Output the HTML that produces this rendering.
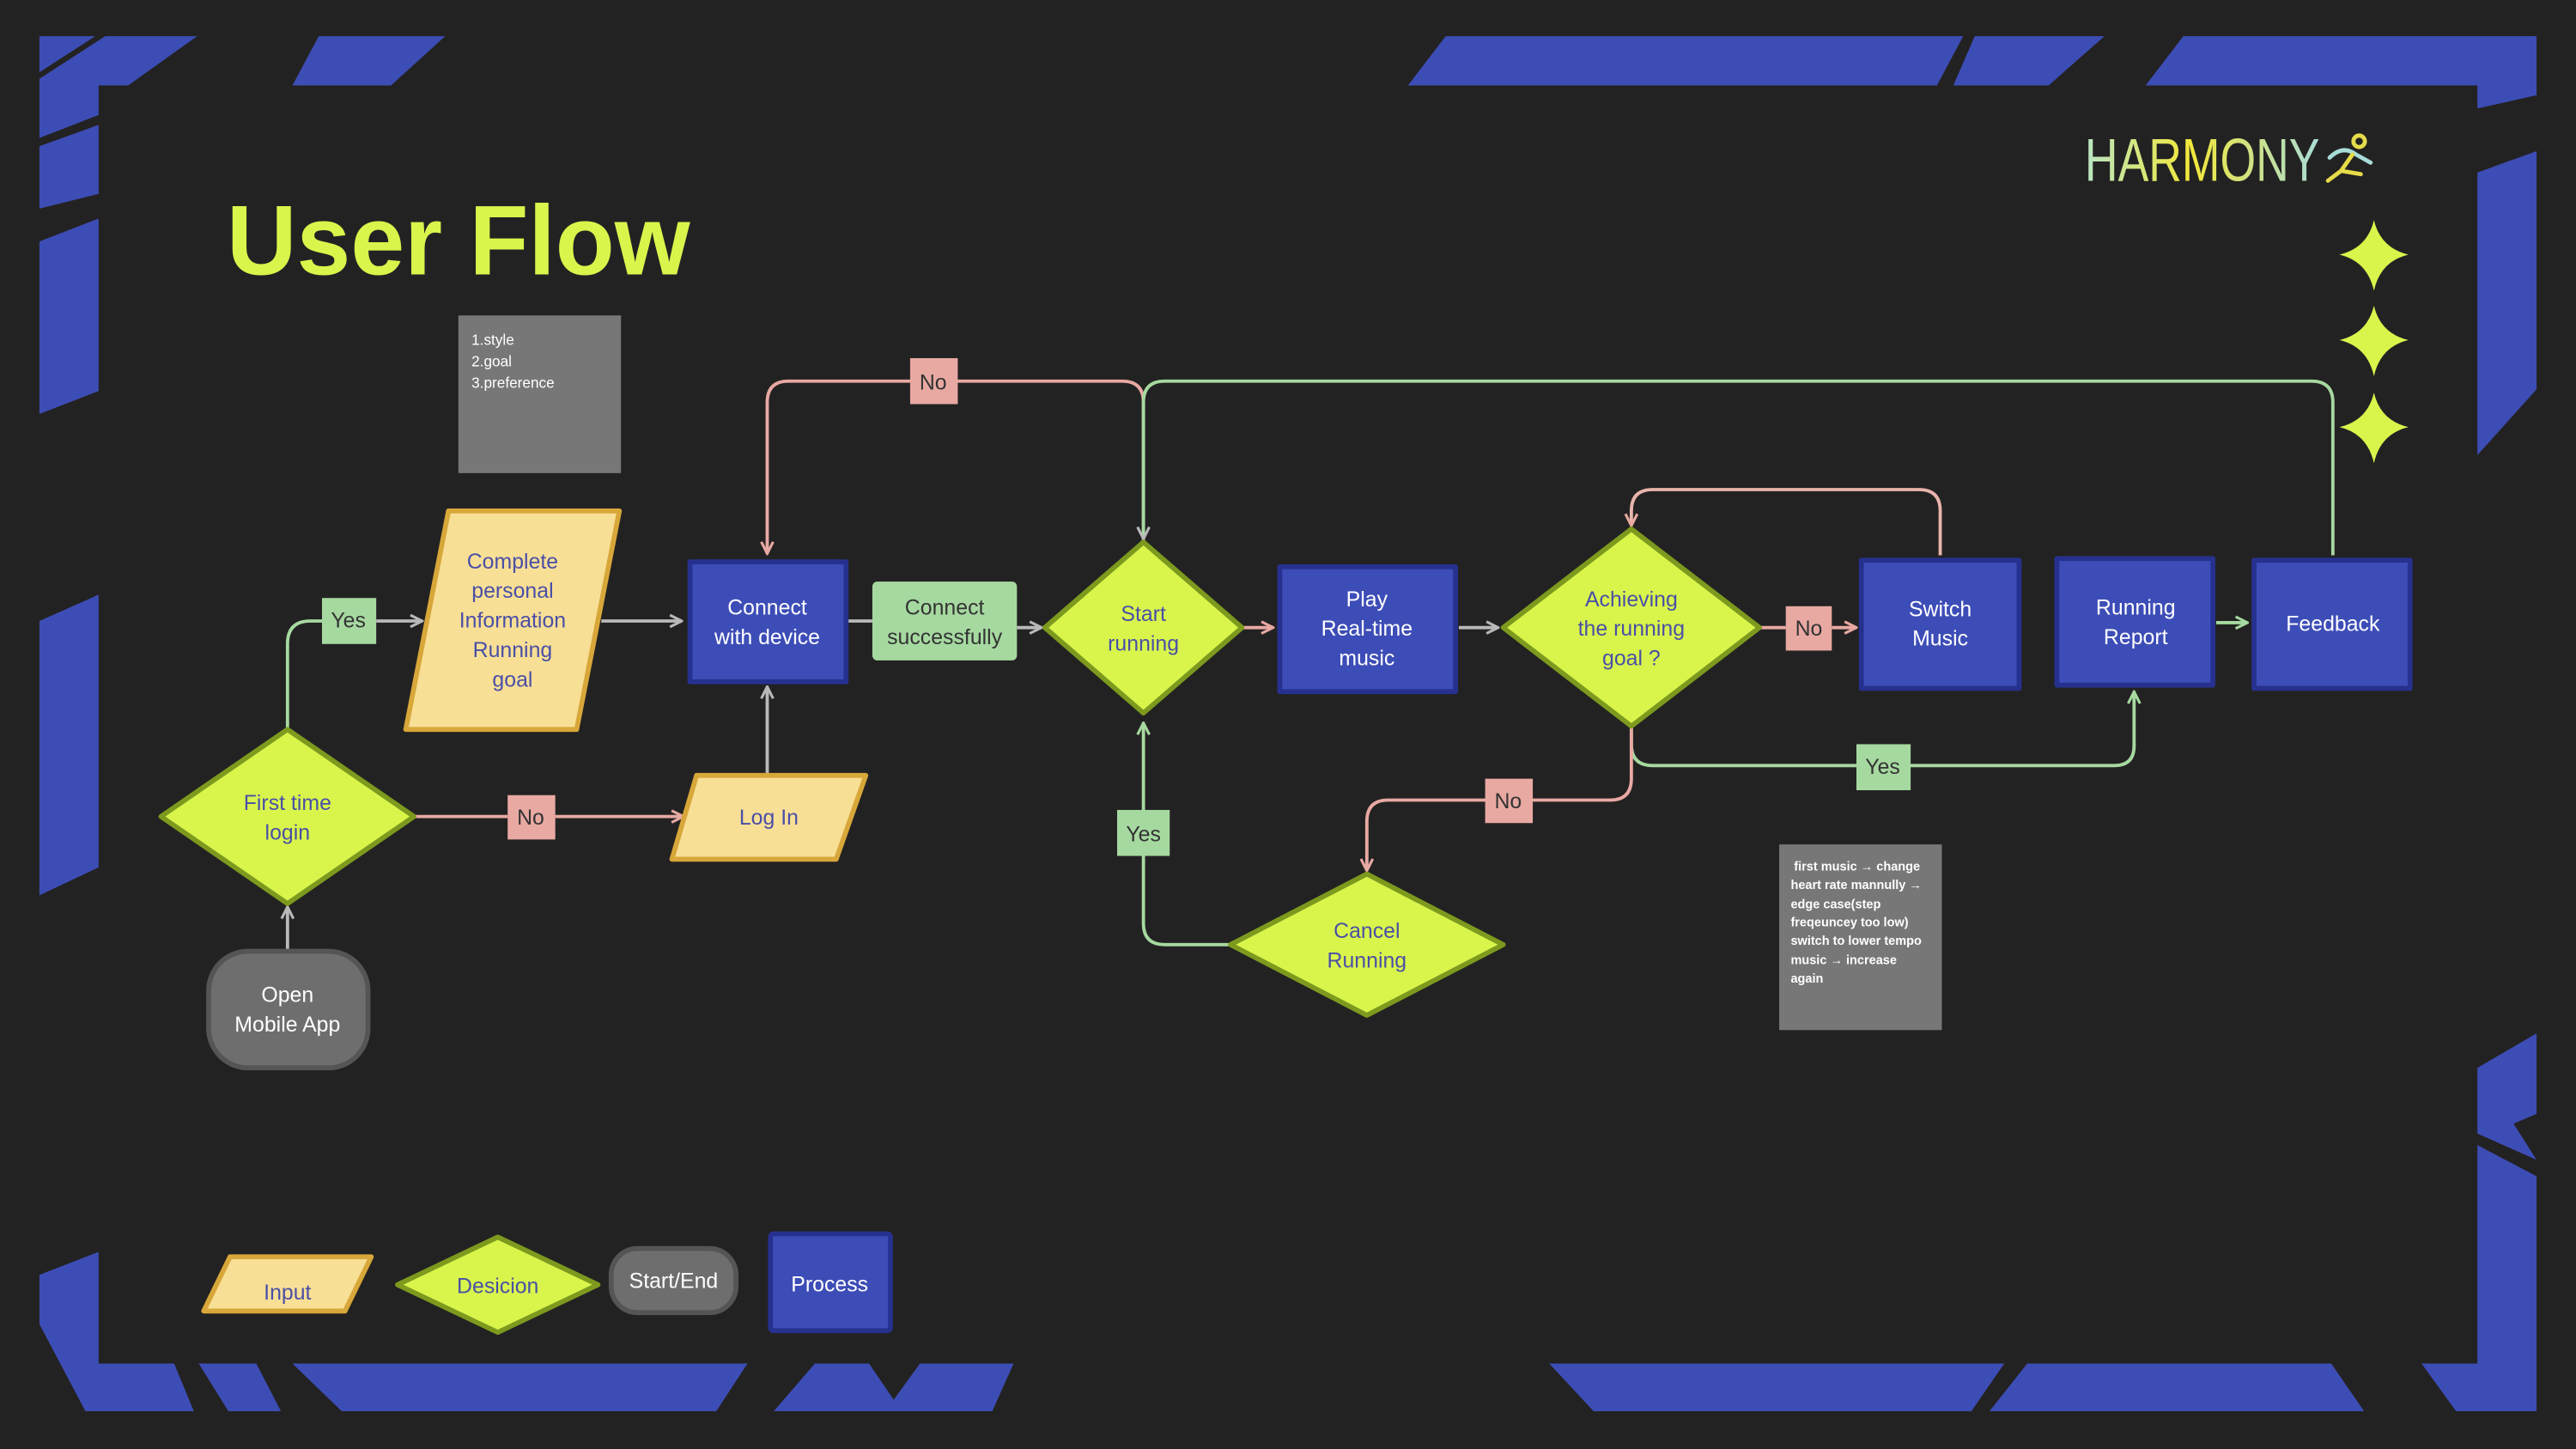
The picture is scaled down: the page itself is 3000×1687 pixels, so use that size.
<!DOCTYPE html>
<html><head><meta charset="utf-8"><style>
html,body{margin:0;padding:0;background:#232222;}
svg{display:block;}
text{font-family:"Liberation Sans",sans-serif;}
</style></head><body>
<svg width="3000" height="1687" viewBox="0 0 1568 882" preserveAspectRatio="none" xmlns="http://www.w3.org/2000/svg">
<defs>
<marker id="ag" viewBox="0 0 10 10" refX="9" refY="5" markerWidth="9" markerHeight="9" markerUnits="userSpaceOnUse" orient="auto"><path d="M1,1 L9,5 L1,9" fill="none" stroke="#b9b9b9" stroke-width="1.8"/></marker>
<marker id="ap" viewBox="0 0 10 10" refX="9" refY="5" markerWidth="9" markerHeight="9" markerUnits="userSpaceOnUse" orient="auto"><path d="M1,1 L9,5 L1,9" fill="none" stroke="#e8a9a2" stroke-width="1.8"/></marker>
<marker id="an" viewBox="0 0 10 10" refX="9" refY="5" markerWidth="9" markerHeight="9" markerUnits="userSpaceOnUse" orient="auto"><path d="M1,1 L9,5 L1,9" fill="none" stroke="#a6d9a0" stroke-width="1.8"/></marker>
<linearGradient id="hg" x1="0" x2="1" y1="0" y2="0"><stop offset="0" stop-color="#b8e6c4"/><stop offset="0.45" stop-color="#f2e83a"/><stop offset="1" stop-color="#a8dcd8"/></linearGradient>
</defs>
<rect width="1568" height="882" fill="#232222"/>
<!-- frame -->
<g fill="#3d4db6">
<polygon points="24,22 58,22 24,44"/>
<polygon points="64,22 120,22 78,52 60,52 60,70 24,84 24,48"/>
<polygon points="60,76 60,118 24,127 24,89"/>
<polygon points="60,133 60,238 24,252 24,147"/>
<polygon points="60,362 60,528 24,545 24,378"/>
<polygon points="194,22 271,22 238,52 178,52"/>
<polygon points="880,22 1195,22 1179,52 857,52"/>
<polygon points="1202,22 1281,22 1247,52 1189,52"/>
<polygon points="1329,22 1544,22 1544,58 1508,66 1508,52 1306,52"/>
<polygon points="1508,105 1544,92 1544,237 1508,277"/>
<polygon points="1508,650 1544,629 1544,678 1530,684 1544,706 1508,690"/>
<polygon points="1508,697 1544,716 1544,859 1495,859 1474,830 1508,830"/>
<polygon points="943,830 1220,830 1200,859 970,859"/>
<polygon points="1234,830 1419,830 1439,859 1211,859"/>
<polygon points="24,776 60,762 60,830 106,830 118,859 52,859 24,806"/>
<polygon points="121,830 156,830 171,859 139,859"/>
<polygon points="178,830 455,830 436,859 208,859"/>
<polygon points="496,830 529,830 544,852 560,830 617,830 604,859 471,859"/>
</g>
<!-- title -->
<text x="138" y="167" font-size="60" font-weight="bold" fill="#d9f54c" textLength="282" lengthAdjust="spacingAndGlyphs">User Flow</text>
<text x="1269" y="110" font-size="37" fill="url(#hg)" textLength="143" lengthAdjust="spacingAndGlyphs">HARMONY</text>
<g fill="none" stroke="#c8e37a" stroke-width="2.5" stroke-linecap="round">
<circle cx="1436" cy="86" r="3.5" stroke="#e6dc4a"/>
<path d="M1418,96 Q1426,88 1434,94 L1443,99" stroke="#a8dcd8"/>
<path d="M1432,94 L1425,104 L1437,106 M1425,104 L1417,110" stroke="#e6dc4a"/>
</g>
<g fill="#d9f54c">
<path d="M1445,134 Q1449,151 1466,155 Q1449,159 1445,177 Q1441,159 1424,155 Q1441,151 1445,134Z"/>
<path d="M1445,186 Q1449,203 1466,207 Q1449,211 1445,229 Q1441,211 1424,207 Q1441,203 1445,186Z"/>
<path d="M1445,239 Q1449,256 1466,260 Q1449,264 1445,282 Q1441,264 1424,260 Q1441,256 1445,239Z"/>
</g>
<!-- notes -->
<rect x="279" y="192" width="99" height="96" fill="#777"/>
<g font-size="9" fill="#fff"><text x="287" y="210">1.style</text><text x="287" y="223">2.goal</text><text x="287" y="236">3.preference</text></g>
<rect x="1083" y="514" width="99" height="113" fill="#777"/>
<g font-size="7.6" font-weight="bold" fill="#fff">
<text x="1092" y="530">first music → change</text>
<text x="1090" y="541">heart rate mannully →</text>
<text x="1090" y="553">edge case(step</text>
<text x="1090" y="564">freqeuncey too low)</text>
<text x="1090" y="575">switch to lower tempo</text>
<text x="1090" y="587">music → increase</text>
<text x="1090" y="598">again</text>
</g>
<!-- connectors -->
<g fill="none" stroke-width="2">
<path d="M175,578 V552" stroke="#b9b9b9" marker-end="url(#ag)"/>
<path d="M175,444 V392 Q175,378 189,378 H197" stroke="#a6d9a0"/>
<path d="M229,378 H257" stroke="#b9b9b9" marker-end="url(#ag)"/>
<path d="M366,378 H415" stroke="#b9b9b9" marker-end="url(#ag)"/>
<path d="M253,497 H309 M338,497 H416" stroke="#e8a9a2" marker-end="url(#ap)"/>
<path d="M467,472 V418" stroke="#b9b9b9" marker-end="url(#ag)"/>
<path d="M515,378 H531" stroke="#b9b9b9"/>
<path d="M619,382 H634" stroke="#b9b9b9" marker-end="url(#ag)"/>
<path d="M696,330 V245 Q696,232 683,232 H480 Q467,232 467,245 V337" stroke="#e8a9a2" marker-end="url(#ap)"/>
<path d="M1420,338 V245 Q1420,232 1407,232 H709 Q696,232 696,245 V328" stroke="#a6d9a0" marker-end="url(#ag)"/>
<path d="M757,382 H775" stroke="#e8a9a2" marker-end="url(#ap)"/>
<path d="M888,382 H912" stroke="#b9b9b9" marker-end="url(#ag)"/>
<path d="M1071,382 H1087" stroke="#e8a9a2"/>
<path d="M1115,382 H1130" stroke="#e8a9a2" marker-end="url(#ap)"/>
<path d="M1181,338 V311 Q1181,298 1168,298 H1006 Q993,298 993,311 V320" stroke="#e8b4ac" marker-end="url(#ap)"/>
<path d="M993,442 V453 Q993,466 1006,466 H1287 Q1299,466 1299,454 V421" stroke="#a6d9a0" marker-end="url(#an)"/>
<path d="M993,442 V474 Q993,487 980,487 H845 Q832,487 832,500 V530" stroke="#e8a9a2" marker-end="url(#ap)"/>
<path d="M1349,379 H1368" stroke="#a6d9a0" marker-end="url(#an)"/>
<path d="M750,575 H709 Q696,575 696,562 V440" stroke="#a6d9a0" marker-end="url(#an)"/>
</g>
<!-- labels -->
<g font-size="13" text-anchor="middle" fill="#333">
<rect x="196" y="364" width="33" height="28" fill="#a6d9a0"/><text x="212" y="382">Yes</text>
<rect x="309" y="484" width="29" height="27" fill="#e8a9a2"/><text x="323" y="502">No</text>
<rect x="554" y="218" width="29" height="28" fill="#e8a9a2"/><text x="568" y="237">No</text>
<rect x="1087" y="369" width="28" height="27" fill="#e8a9a2"/><text x="1101" y="387">No</text>
<rect x="1130" y="453" width="33" height="28" fill="#a6d9a0"/><text x="1146" y="471">Yes</text>
<rect x="904" y="474" width="29" height="27" fill="#e8a9a2"/><text x="918" y="492">No</text>
<rect x="680" y="493" width="32" height="28" fill="#a6d9a0"/><text x="696" y="512">Yes</text>
<rect x="531" y="354" width="88" height="48" rx="3" fill="#a6d9a0"/><text x="575" y="374">Connect</text><text x="575" y="392">successfully</text>
</g>
<!-- nodes -->
<g stroke-width="3" stroke-linejoin="round">
<rect x="127" y="579" width="97" height="71" rx="24" fill="#6e6e6e" stroke="#555"/>
<polygon points="175,444 252,497 175,550 98,497" fill="#d9f54c" stroke="#7d9a1e"/>
<polygon points="273,311 377,311 351,444 247,444" fill="#f8df96" stroke="#d8a73a"/>
<polygon points="424,472 527,472 509,523 409,523" fill="#f8df96" stroke="#d8a73a"/>
<rect x="420" y="342" width="95" height="73" fill="#3d4db7" stroke="#26318f"/>
<polygon points="696,330 756,382 696,434 636,382" fill="#d9f54c" stroke="#7d9a1e"/>
<rect x="779" y="345" width="107" height="76" fill="#3d4db7" stroke="#26318f"/>
<polygon points="993,322 1071,382 993,442 915,382" fill="#d9f54c" stroke="#7d9a1e"/>
<rect x="1133" y="341" width="96" height="78" fill="#3d4db7" stroke="#26318f"/>
<rect x="1252" y="340" width="95" height="77" fill="#3d4db7" stroke="#26318f"/>
<rect x="1372" y="341" width="95" height="78" fill="#3d4db7" stroke="#26318f"/>
<polygon points="832,532 915,575 832,618 749,575" fill="#d9f54c" stroke="#7d9a1e"/>
<polygon points="140,765 226,765 210,798 124,798" fill="#f8df96" stroke="#d8a73a"/>
<polygon points="303,753 364,782 303,811 242,782" fill="#d9f54c" stroke="#7d9a1e"/>
<rect x="372" y="760" width="76" height="39" rx="16" fill="#6e6e6e" stroke="#555"/>
<rect x="469" y="751" width="73" height="59" rx="2" fill="#3d4db7" stroke="#26318f"/>
</g>
<g font-size="13" text-anchor="middle" fill="#fff">
<text x="175" y="610">Open</text><text x="175" y="628">Mobile App</text>
<text x="467" y="374">Connect</text><text x="467" y="392">with device</text>
<text x="832" y="369">Play</text><text x="832" y="387">Real-time</text><text x="832" y="405">music</text>
<text x="1181" y="375">Switch</text><text x="1181" y="393">Music</text>
<text x="1300" y="374">Running</text><text x="1300" y="392">Report</text>
<text x="1420" y="384">Feedback</text>
<text x="410" y="784">Start/End</text>
<text x="505" y="786">Process</text>
</g>
<g font-size="13" text-anchor="middle" fill="#4a4fa6">
<text x="175" y="493">First time</text><text x="175" y="511">login</text>
<text x="312" y="346">Complete</text><text x="312" y="364">personal</text><text x="312" y="382">Information</text><text x="312" y="400">Running</text><text x="312" y="418">goal</text>
<text x="468" y="502">Log In</text>
<text x="696" y="378">Start</text><text x="696" y="396">running</text>
<text x="993" y="369">Achieving</text><text x="993" y="387">the running</text><text x="993" y="405">goal ?</text>
<text x="832" y="571">Cancel</text><text x="832" y="589">Running</text>
<text x="175" y="791">Input</text>
<text x="303" y="787">Desicion</text>
</g>
</svg>
</body></html>
